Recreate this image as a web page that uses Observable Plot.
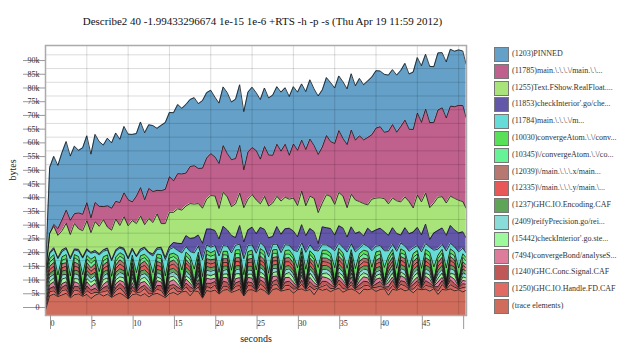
<!DOCTYPE html>
<html><head><meta charset="utf-8">
<script src="https://cdn.jsdelivr.net/npm/d3@7"></script>
<script src="https://cdn.jsdelivr.net/npm/@observablehq/plot@0.6"></script>
<style>
html,body{margin:0;padding:0;background:#fff;}
#wrap{position:relative;width:640px;height:360px;font-family:"Liberation Serif","Times New Roman",serif;}
.sw{position:absolute;left:494px;width:13px;height:13px;border:1px solid #777;box-sizing:content-box;}
.lb{position:absolute;left:512px;font-size:8px;line-height:14px;color:#333;white-space:nowrap;}
</style></head><body><div id="wrap"></div>
<script>
const titleText = "Describe2 40 -1.99433296674 1e-15 1e-6 +RTS -h -p -s (Thu Apr 19 11:59 2012)";
const xLabel = "seconds";
const yLabel = "bytes";

const times = [0,0.5,1,1.5,2,2.5,3,3.5,4,4.5,
5,5.5,6,6.5,7,7.5,8,8.5,9,9.5,
10,10.5,11,11.5,12,12.5,13,13.5,14,14.5,
15,15.5,16,16.5,17,17.5,18,18.5,19,19.5,
20,20.5,21,21.5,22,22.5,23,23.5,24,24.5,
25,25.5,26,26.5,27,27.5,28,28.5,29,29.5,
30,30.5,31,31.5,32,32.5,33,33.5,34,34.5,
35,35.5,36,36.5,37,37.5,38,38.5,39,39.5,
40,40.5,41,41.5,42,42.5,43,43.5,44,44.5,
45,45.5,46,46.5,47,47.5,48,48.5,49,49.5,
50,50.5,50.9];

// values in kilobytes (thousands of bytes), one per sample time
const pinned = [1.0,24.0,24.8,23.0,24.5,25.0,23.4,24.6,22.8,24.2,
24.4,23.2,24.8,23.6,22.4,24.6,23.8,24.9,23.0,24.2,
23.9,24.6,22.8,23.9,24.4,23.2,24.0,22.6,23.8,24.3,
23.4,24.8,25.2,23.9,25.0,24.4,24.8,23.6,24.6,23.8,
23.1,21.8,22.0,21.4,22.2,21.0,21.6,22.1,21.2,21.8,
22.0,21.1,21.7,21.3,20.8,21.9,21.0,21.5,20.6,21.4,
20.9,21.2,20.5,21.1,21.6,20.7,21.3,20.8,21.1,21.5,
20.2,19.9,20.7,20.3,20.5,19.8,20.9,20.1,20.6,21.0,
20.9,20.3,21.1,20.5,20.0,20.8,20.4,20.7,20.1,20.9,
20.2,20.6,20.0,20.5,20.3,20.8,20.1,20.4,20.7,20.2,
20.2,19.9,19.5];
const main11785 = [0,0,0.7,2.5,4.0,4.8,5.2,3.6,5.8,6.0,
6.6,5.4,7.0,7.3,4.8,7.8,8.0,6.5,8.4,8.7,
9.5,6.8,10.0,10.4,9.1,11.0,11.3,8.6,12.0,12.5,
13.0,11.5,12.8,13.2,12.0,13.5,14.0,12.8,14.6,15.0,
15.3,14.2,16.4,17.0,15.8,17.1,16.5,17.4,13.8,17.2,
17.1,18.0,16.3,18.2,18.6,17.4,19.0,18.2,19.3,16.0,
19.7,20.1,18.6,20.5,20.8,19.2,21.2,20.4,21.6,20.0,
22.2,22.6,21.0,23.0,23.4,21.8,24.0,23.2,24.6,23.5,
25.5,25.9,24.2,26.4,26.8,25.0,27.5,28.0,26.4,28.6,
29.9,29.0,30.6,31.0,29.4,31.8,32.4,31.0,32.8,33.4,
34.6,35.0,33.0];
const fshow1255 = [0,7.0,7.8,8.2,7.0,8.9,8.4,9.3,7.5,9.6,
10.2,7.2,10.5,10.0,11.0,7.6,10.8,11.2,7.8,11.5,
11.7,10.1,11.8,12.0,8.2,12.2,11.5,12.4,8.6,12.3,
12.5,11.0,12.6,12.2,10.8,12.7,12.3,11.5,12.8,10.9,
12.2,12.6,11.1,12.4,12.0,10.5,12.3,11.8,12.5,11.2,
11.9,12.3,8.6,12.0,11.6,12.2,11.0,12.1,11.5,10.6,
12.0,11.4,12.2,10.9,11.8,12.1,11.3,8.7,12.0,11.7,
11.2,12.1,11.6,10.7,11.9,12.2,11.0,11.8,8.5,12.0,
11.6,11.1,12.0,11.5,10.8,11.9,12.1,11.2,11.7,8.8,
11.8,12.0,11.3,11.6,10.9,12.1,11.4,11.8,10.7,11.5,
11.9,11.0,10.8];
const check11853 = [0,0.4,0.5,0.3,0.6,0.4,0.5,0.3,0.6,0.4,
0.5,0.3,0.6,0.4,0.5,0.7,0.3,0.5,0.4,0.6,
0.4,0.5,0.3,0.6,0.5,0.4,0.7,0.5,0.6,0.8,
1.0,1.8,2.6,3.4,4.0,4.8,5.5,4.0,6.0,5.8,
6.6,5.5,6.2,7.0,5.9,6.4,2.8,6.8,6.1,5.7,
6.5,7.1,5.6,6.3,6.9,2.9,6.4,6.7,5.8,6.2,
7.0,5.4,6.6,6.1,5.9,6.8,2.7,6.5,6.3,6.9,
5.7,6.4,7.1,5.5,6.2,6.7,6.0,3.0,6.6,6.8,
5.9,6.3,7.0,5.6,6.1,6.5,2.9,6.7,6.4,5.8,
6.6,6.2,7.1,2.8,6.3,6.8,6.0,5.7,6.5,6.2,
6.9,6.0,5.5];
const main11784 = [0.8,1.8,2.0,5.9,1.9,2.1,6.2,1.7,2.0,6.0,
1.9,2.2,1.6,6.1,2.0,1.8,5.7,2.1,1.7,1.9,
6.3,2.0,5.8,1.8,2.1,1.9,6.1,1.7,2.2,6.0,
1.8,2.1,1.9,6.2,2.0,1.7,5.9,2.2,6.1,1.9,
2.0,1.8,6.0,2.1,1.9,6.3,1.7,2.0,5.8,2.2,
1.9,6.1,2.1,1.8,6.0,2.0,1.9,6.2,2.1,1.7,
2.0,5.9,1.9,6.1,2.2,1.8,6.0,2.0,1.9,2.1,
6.2,1.8,2.0,5.9,2.1,6.1,1.9,2.2,1.8,6.0,
2.1,1.9,6.1,2.0,1.8,6.2,2.1,1.9,5.9,2.0,
1.8,6.0,2.1,1.9,6.1,2.2,1.8,6.2,2.0,1.9,
5.9,2.0,1.7];
const conv10030 = [1.2,1.4,1.3,4.5,1.2,1.5,4.8,1.1,1.4,4.4,
1.3,1.5,1.2,4.7,1.4,1.2,4.3,1.5,1.3,1.4,
4.8,1.3,4.4,1.4,1.2,1.5,4.6,1.3,1.4,4.5,
1.4,1.2,1.5,4.8,1.3,1.4,4.4,1.2,4.6,1.5,
1.3,1.5,4.5,1.2,1.4,4.9,1.3,1.5,4.3,1.3,
1.4,4.7,1.3,1.5,4.4,1.2,1.4,4.8,1.3,1.5,
1.2,4.5,1.4,4.6,1.3,1.5,4.4,1.2,1.4,1.3,
4.8,1.3,1.5,4.5,1.2,4.7,1.4,1.3,1.5,4.4,
1.5,1.2,4.6,1.4,1.3,4.5,1.5,1.2,4.8,1.4,
1.3,4.4,1.4,1.5,4.7,1.2,1.3,4.5,1.5,1.4,
4.6,1.3,1.2];
const conv10345 = [1.5,1.4,1.6,0.8,1.3,1.5,0.6,1.6,1.4,0.9,
1.3,1.6,1.4,0.7,1.6,1.3,0.8,1.5,1.3,1.6,
0.9,1.5,0.6,1.6,1.3,1.5,0.7,1.4,1.6,0.8,
1.5,1.3,1.6,0.6,1.4,1.6,0.9,1.3,0.7,1.6,
1.3,1.6,0.8,1.5,1.3,0.6,1.6,1.4,0.9,1.5,
1.6,0.7,1.4,1.5,0.8,1.6,1.3,0.6,1.5,1.3,
1.5,0.9,1.6,0.7,1.4,1.3,0.8,1.6,1.5,1.3,
0.6,1.6,1.3,0.9,1.5,0.7,1.4,1.6,1.3,0.8,
1.6,1.4,0.6,1.5,1.6,0.9,1.3,1.5,0.7,1.6,
1.3,0.8,1.6,1.4,0.6,1.5,1.6,0.9,1.3,1.5,
0.7,1.6,1.4];
const main12039 = [1.3,1.2,1.3,0.4,1.5,1.2,0.3,1.4,1.2,0.3,
1.4,1.3,1.5,0.3,1.3,1.4,0.3,1.2,1.5,1.3,
0.4,1.3,0.3,1.2,1.5,1.4,0.3,1.3,1.4,0.3,
1.2,1.4,1.5,0.3,1.3,1.2,0.4,1.5,0.3,1.3,
1.5,1.3,0.3,1.3,1.4,0.3,1.3,1.5,0.4,1.2,
1.3,0.3,1.5,1.3,0.4,1.2,1.4,0.3,1.3,1.5,
1.4,0.3,1.3,0.4,1.2,1.5,0.3,1.3,1.4,1.2,
0.3,1.3,1.5,0.3,1.4,0.3,1.5,1.3,1.2,0.3,
1.3,1.5,0.4,1.2,1.4,0.3,1.3,1.5,0.3,1.4,
1.5,0.3,1.2,1.4,0.3,1.3,1.5,0.3,1.4,1.2,
0.4,1.3,1.1];
const main12335 = [1.1,1.4,1.5,0.3,1.2,1.4,0.2,1.5,1.3,0.4,
1.5,1.2,1.6,0.3,1.2,1.5,0.4,1.3,1.7,1.4,
0.3,1.5,0.3,1.4,1.6,1.2,0.4,1.6,1.3,0.3,
1.4,1.6,1.3,0.4,1.5,1.3,0.3,1.5,0.3,1.5,
1.3,1.5,0.4,1.4,1.2,0.3,1.6,1.4,0.3,1.3,
1.5,0.4,1.3,1.6,0.3,1.5,1.3,0.2,1.6,1.4,
1.2,0.3,1.6,0.3,1.5,1.3,0.4,1.5,1.2,1.6,
0.3,1.5,1.4,0.3,1.6,0.3,1.2,1.5,1.3,0.4,
1.4,1.6,0.3,1.4,1.3,0.2,1.6,1.4,0.3,1.5,
1.3,0.4,1.5,1.2,0.3,1.5,1.4,0.4,1.6,1.3,
0.3,1.3,1.2];
const enc1237 = [1.4,1.3,1.5,0.2,1.4,1.6,0.3,1.3,1.5,0.3,
1.3,1.5,1.2,0.4,1.5,1.3,0.3,1.6,1.4,1.2,
0.3,1.2,0.4,1.5,1.4,1.3,0.3,1.2,1.4,0.4,
1.5,1.4,1.3,0.2,1.4,1.5,0.3,1.3,0.4,1.4,
1.4,1.2,0.3,1.6,1.3,0.4,1.5,1.2,0.3,1.4,
1.6,0.3,1.4,1.2,0.3,1.3,1.5,0.3,1.4,1.2,
1.3,0.4,1.5,0.4,1.3,1.2,0.3,1.4,1.5,1.4,
0.2,1.4,1.3,0.3,1.5,0.3,1.4,1.2,1.5,0.3,
1.5,1.4,0.3,1.3,1.4,0.3,1.5,1.3,0.4,1.3,
1.4,0.2,1.3,1.5,0.4,1.3,1.5,0.3,1.4,1.3,
0.3,1.4,1.2];
const reify2409 = [1.2,1.6,1.3,0.3,1.5,1.2,0.4,1.8,1.4,0.4,
1.6,1.3,1.5,0.4,1.3,1.7,0.3,1.2,1.6,1.4,
0.4,1.4,0.3,1.5,1.3,1.7,0.4,1.5,1.6,0.2,
1.3,1.5,1.6,0.3,1.7,1.2,0.4,1.4,0.3,1.6,
1.6,1.4,0.4,1.3,1.6,0.3,1.4,1.7,0.2,1.5,
1.3,0.2,1.6,1.4,0.4,1.5,1.2,0.4,1.5,1.3,
1.4,0.4,1.2,0.3,1.4,1.7,0.2,1.5,1.3,1.6,
0.3,1.6,1.4,0.2,1.3,0.4,1.5,1.3,1.7,0.4,
1.4,1.3,0.2,1.6,1.5,0.4,1.2,1.6,0.3,1.4,
1.2,0.3,1.5,1.3,0.4,1.6,1.3,0.3,1.6,1.4,
0.2,1.5,1.3];
const check15442 = [1.5,1.2,1.4,0.4,1.7,1.5,0.3,1.2,1.6,0.3,
1.2,1.6,1.4,0.3,1.8,1.2,0.4,1.5,1.3,1.6,
0.3,1.8,0.4,1.3,1.6,1.5,0.3,1.4,1.2,0.3,
1.7,1.3,1.5,0.4,1.2,1.6,0.3,1.8,0.4,1.3,
1.3,1.6,0.2,1.2,1.4,0.4,1.8,1.5,0.3,1.2,
1.5,0.4,1.7,1.3,0.2,1.4,1.6,0.3,1.3,1.8,
1.6,0.3,1.3,0.2,1.6,1.5,0.3,1.2,1.7,1.3,
0.4,1.3,1.6,0.3,1.4,0.4,1.7,1.5,1.2,0.2,
1.3,1.5,0.3,1.2,1.6,0.4,1.4,1.2,0.3,1.5,
1.7,0.4,1.3,1.5,0.3,1.4,1.6,0.2,1.2,1.8,
0.4,1.3,1.2];
const bond7494 = [0.8,1.4,1.7,0.3,1.3,1.1,0.4,1.6,1.2,0.4,
1.5,1.3,1.8,0.2,1.2,1.6,0.3,1.4,1.1,1.7,
0.4,1.3,0.3,1.6,1.4,1.2,0.2,1.8,1.3,0.4,
1.4,1.7,1.2,0.3,1.5,1.3,0.4,1.2,0.3,1.8,
1.5,1.2,0.3,1.4,1.7,0.2,1.5,1.3,0.4,1.6,
1.7,0.3,1.2,1.5,0.4,1.8,1.3,0.3,1.6,1.4,
1.2,0.4,1.8,0.3,1.5,1.2,0.3,1.6,1.4,1.7,
0.3,1.5,1.2,0.4,1.7,0.2,1.3,1.6,1.4,0.3,
1.7,1.3,0.4,1.5,1.2,0.3,1.8,1.4,0.4,1.2,
1.3,0.3,1.6,1.4,0.2,1.7,1.2,0.4,1.3,1.6,
0.3,1.2,1.1];
const signal1240 = [1.3,1.1,1.6,0.4,1.2,1.8,0.3,1.4,1.5,0.2,
1.7,1.2,1.5,0.3,1.4,1.8,0.4,1.1,1.6,1.9,
0.2,1.5,0.3,1.7,1.2,1.6,0.4,1.3,1.8,0.3,
1.6,1.1,1.7,0.4,1.3,1.9,0.3,1.5,0.2,1.2,
1.7,1.3,0.4,1.8,1.5,0.3,1.2,1.6,0.4,1.4,
1.1,0.4,1.5,1.7,0.3,1.3,1.8,0.4,1.2,1.6,
1.3,0.2,1.5,0.3,1.7,1.4,0.4,1.9,1.2,1.5,
0.3,1.4,1.8,0.4,1.2,0.3,1.5,1.7,1.3,0.4,
1.2,1.7,0.3,1.4,1.8,0.4,1.3,1.5,0.3,1.7,
1.4,0.4,1.7,1.2,0.3,1.6,1.4,0.4,1.8,1.2,
0.4,1.4,1.0];
const handle1250 = [1.0,1.5,1.2,0.3,1.6,1.3,0.4,1.7,1.1,0.3,
1.4,1.8,1.0,0.4,1.6,1.3,0.2,1.5,1.9,1.2,
0.3,1.6,0.4,1.4,1.8,1.1,0.3,1.5,1.7,0.4,
1.3,1.8,1.0,0.3,1.6,1.4,0.2,1.7,0.4,1.5,
1.2,1.8,0.3,1.5,1.1,0.4,1.7,1.3,0.3,1.6,
1.4,0.3,1.8,1.2,0.4,1.6,1.5,0.2,1.7,1.3,
1.5,0.3,1.7,0.4,1.2,1.8,0.3,1.4,1.6,1.1,
0.4,1.7,1.3,0.3,1.5,0.4,1.8,1.2,1.6,0.3,
1.5,1.2,0.4,1.7,1.4,0.3,1.6,1.8,0.2,1.3,
1.6,0.3,1.4,1.7,0.4,1.2,1.8,0.3,1.5,1.4,
0.3,1.6,1.2];
const traceElements = [2.0,7.2,7.8,6.9,7.5,8.1,6.4,7.6,7.9,7.0,
7.7,6.2,7.4,8.0,7.1,7.8,6.6,7.5,8.2,7.3,
6.0,7.6,7.9,7.2,8.0,6.8,7.7,8.1,7.4,6.5,
8.0,8.4,7.6,8.6,8.9,7.2,9.0,8.7,6.3,9.1,
8.8,9.3,7.8,9.2,9.5,8.4,9.0,9.6,7.1,9.3,
9.4,8.6,9.7,9.1,7.5,9.5,9.8,8.9,9.3,9.6,
8.2,9.4,9.7,9.0,9.5,7.6,9.8,9.2,9.6,8.7,
9.5,9.9,8.5,9.3,9.7,9.1,7.9,9.6,9.4,9.8,
8.8,9.5,9.7,7.4,9.6,9.2,9.8,9.0,9.5,8.3,
9.7,9.4,9.6,8.9,9.8,7.7,9.5,9.3,9.7,9.0,
9.4,8.6,9.2];

// legend order (top of legend = top of stack)
const seriesNames = [
  "(1203)PINNED",
  "(11785)main.\\.\\.\\.\\/main.\\.\\...",
  "(1255)Text.FShow.RealFloat....",
  "(11853)checkInterior'.go/che...",
  "(11784)main.\\.\\.\\.\\/m...",
  "(10030)convergeAtom.\\.\\/conv...",
  "(10345)\\/convergeAtom.\\.\\/co...",
  "(12039)\\/main.\\.\\.\\.x/main...",
  "(12335)\\/main.\\.\\.\\.y/main.\\...",
  "(1237)GHC.IO.Encoding.CAF",
  "(2409)reifyPrecision.go/rei...",
  "(15442)checkInterior'.go.ste...",
  "(7494)convergeBond/analyseS...",
  "(1240)GHC.Conc.Signal.CAF",
  "(1250)GHC.IO.Handle.FD.CAF",
  "(trace elements)"
];
const seriesColors = [
  "#64a0c8","#c0608c","#a8e47a","#6257a8","#66dcd8","#58e058","#66f296","#b87872",
  "#e85858","#60a458","#8adcd8","#9cfa9c","#de7c9c","#c05858","#e06a64","#d06c5c"
];
const seriesValues = [pinned, main11785, fshow1255, check11853, main11784, conv10030, conv10345,
  main12039, main12335, enc1237, reify2409, check15442, bond7494, signal1240, handle1250, traceElements];

const yTicks = [0,5000,10000,15000,20000,25000,30000,35000,40000,45000,50000,55000,60000,65000,70000,75000,80000,85000,90000];
const yGrid = [5000,10000,15000,20000,25000,30000,35000,40000,45000,50000,55000,60000,65000,70000,75000,80000,85000,90000,95000];
const xTicks = [0,5,10,15,20,25,30,35,40,45,50];
const xGrid = [5,10,15,20,25,30,35,40,45,50];

seriesValues.forEach((arr, k) => { if (arr.length !== times.length) throw new Error(seriesNames[k] + " length " + arr.length); });

const table = [];
seriesNames.forEach((name, k) => {
  seriesValues[k].forEach((v, i) => table.push({series: name, time: times[i], bytes: v * 1000}));
});
const stackOrder = seriesNames.slice().reverse();

const chart = Plot.plot({
  width: 640, height: 360,
  marginLeft: 45, marginRight: 174, marginTop: 45, marginBottom: 45,
  style: {fontFamily: '"Liberation Serif","Times New Roman",serif', fontSize: "8px", background: "#fff", overflow: "visible"},
  x: {domain: [0, 50.95]},
  y: {domain: [0, 98400]},
  color: {domain: seriesNames, range: seriesColors},
  marks: [
    Plot.areaY(table, {x: "time", y: "bytes", z: "series", fill: "series", order: stackOrder, curve: "linear"}),
    Plot.lineY(table, Plot.stackY2({x: "time", y: "bytes", z: "series", order: stackOrder, stroke: "#141414", strokeWidth: 0.8, curve: "linear"})),
    Plot.gridY({ticks: yGrid, stroke: "#000", strokeOpacity: 0.14}),
    Plot.gridX({ticks: xGrid, stroke: "#000", strokeOpacity: 0.14}),
    Plot.frame({stroke: "#aaa", strokeWidth: 1.5}),
    Plot.axisY({ticks: yTicks, tickSize: 22, tickPadding: -16, dy: -8, stroke: "#999", fill: "#333", label: null,
      tickFormat: d => d === 0 ? "0" : (d / 1000) + "k"}),
    Plot.axisX({ticks: xTicks, tickSize: 14, tickPadding: -9, textAnchor: "start", dx: 5, stroke: "#999", fill: "#333", label: null,
      tickFormat: d => d < 50 ? String(d) : ""}),
    Plot.text([titleText], {text: d => d, frameAnchor: "top", dx: 6.5, dy: -28, fontSize: 11, fill: "#111"}),
    Plot.text([yLabel], {text: d => d, frameAnchor: "left", dx: -33, rotate: -90, fontSize: 10, fill: "#222"}),
    Plot.text([xLabel], {text: d => d, frameAnchor: "bottom", dy: 26, fontSize: 10, fill: "#222"})
  ]
});
const wrap = document.getElementById("wrap");
wrap.appendChild(chart);
chart.style.position = "absolute"; chart.style.left = "0"; chart.style.top = "0";

seriesNames.forEach((name, k) => {
  const sw = document.createElement("div");
  sw.className = "sw";
  sw.style.top = (47 + k * 16.8) + "px";
  sw.style.background = seriesColors[k];
  wrap.appendChild(sw);
  const lb = document.createElement("div");
  lb.className = "lb";
  lb.style.top = (47 + k * 16.8) + "px";
  lb.textContent = name;
  wrap.appendChild(lb);
});
</script></body></html>
